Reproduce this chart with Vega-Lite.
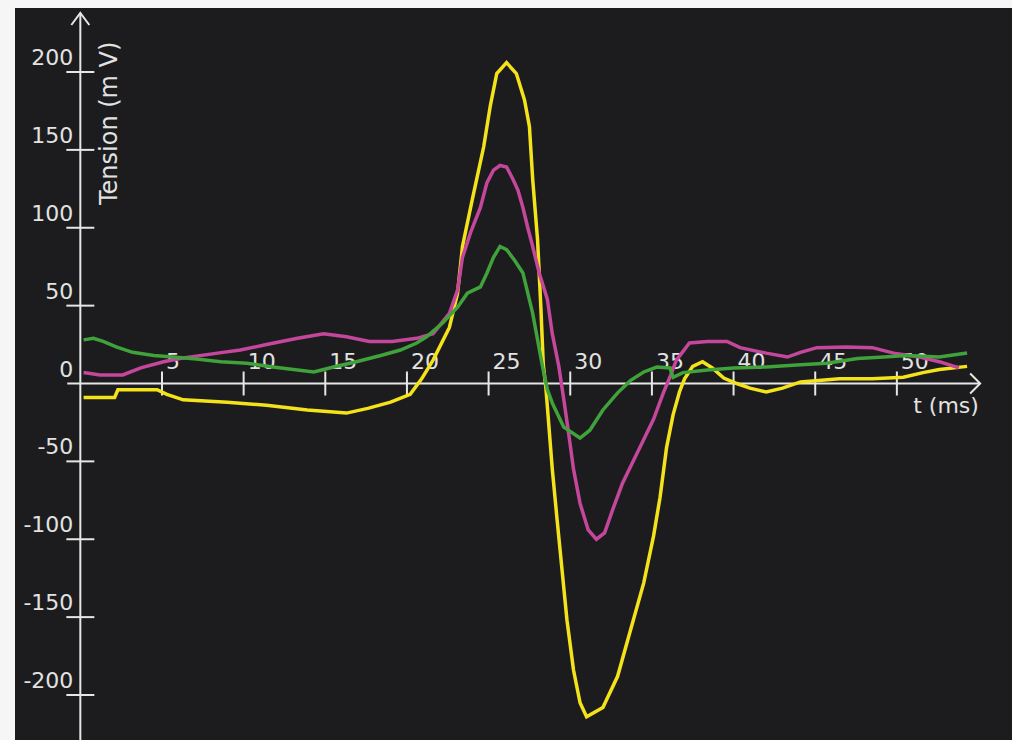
{
  "$schema": "https://vega.github.io/schema/vega-lite/v6.json",
  "width": 997,
  "height": 732,
  "padding": {"left": 15, "top": 8, "right": 0, "bottom": 0},
  "autosize": {"type": "none"},
  "background": "#f6f6f6",
  "config": {"view": {"stroke": null, "fill": "#1c1c1e"}},
  "datasets": {
    "curves": [
      {"series": "Jaune", "t": 0.2, "v": -9}, {"series": "Jaune", "t": 2.1, "v": -9}, {"series": "Jaune", "t": 2.3, "v": -4}, {"series": "Jaune", "t": 4.7, "v": -4}, {"series": "Jaune", "t": 5.3, "v": -7}, {"series": "Jaune", "t": 6.3, "v": -10.5}, {"series": "Jaune", "t": 9, "v": -12}, {"series": "Jaune", "t": 11.4, "v": -14}, {"series": "Jaune", "t": 13.9, "v": -17}, {"series": "Jaune", "t": 16.3, "v": -19}, {"series": "Jaune", "t": 17.6, "v": -16}, {"series": "Jaune", "t": 19, "v": -12}, {"series": "Jaune", "t": 20.2, "v": -7}, {"series": "Jaune", "t": 20.9, "v": 3}, {"series": "Jaune", "t": 21.6, "v": 15}, {"series": "Jaune", "t": 22.6, "v": 36}, {"series": "Jaune", "t": 23.1, "v": 58}, {"series": "Jaune", "t": 23.4, "v": 88}, {"series": "Jaune", "t": 24.0, "v": 118}, {"series": "Jaune", "t": 24.7, "v": 152}, {"series": "Jaune", "t": 25.1, "v": 178}, {"series": "Jaune", "t": 25.5, "v": 199}, {"series": "Jaune", "t": 26.1, "v": 206}, {"series": "Jaune", "t": 26.7, "v": 199}, {"series": "Jaune", "t": 27.2, "v": 182}, {"series": "Jaune", "t": 27.5, "v": 165}, {"series": "Jaune", "t": 27.7, "v": 131}, {"series": "Jaune", "t": 28.0, "v": 92}, {"series": "Jaune", "t": 28.2, "v": 49}, {"series": "Jaune", "t": 28.35, "v": 12}, {"series": "Jaune", "t": 28.5, "v": -2}, {"series": "Jaune", "t": 28.6, "v": -15}, {"series": "Jaune", "t": 28.9, "v": -55}, {"series": "Jaune", "t": 29.2, "v": -88}, {"series": "Jaune", "t": 29.5, "v": -120}, {"series": "Jaune", "t": 29.8, "v": -152}, {"series": "Jaune", "t": 30.2, "v": -184}, {"series": "Jaune", "t": 30.6, "v": -205}, {"series": "Jaune", "t": 31.0, "v": -214}, {"series": "Jaune", "t": 32.0, "v": -208}, {"series": "Jaune", "t": 32.9, "v": -188}, {"series": "Jaune", "t": 33.7, "v": -158}, {"series": "Jaune", "t": 34.5, "v": -128}, {"series": "Jaune", "t": 35.1, "v": -98}, {"series": "Jaune", "t": 35.5, "v": -73}, {"series": "Jaune", "t": 35.9, "v": -41}, {"series": "Jaune", "t": 36.3, "v": -20}, {"series": "Jaune", "t": 36.7, "v": -5}, {"series": "Jaune", "t": 37.0, "v": 3}, {"series": "Jaune", "t": 37.5, "v": 11}, {"series": "Jaune", "t": 38.1, "v": 14}, {"series": "Jaune", "t": 38.7, "v": 10}, {"series": "Jaune", "t": 39.4, "v": 3.5}, {"series": "Jaune", "t": 40.2, "v": 0}, {"series": "Jaune", "t": 41, "v": -3}, {"series": "Jaune", "t": 42, "v": -5.5}, {"series": "Jaune", "t": 43, "v": -3}, {"series": "Jaune", "t": 44.1, "v": 1}, {"series": "Jaune", "t": 46.5, "v": 3}, {"series": "Jaune", "t": 48.5, "v": 3}, {"series": "Jaune", "t": 50.4, "v": 4}, {"series": "Jaune", "t": 51.6, "v": 7}, {"series": "Jaune", "t": 52.6, "v": 9}, {"series": "Jaune", "t": 54.3, "v": 11},
      {"series": "Magenta", "t": 0.2, "v": 7}, {"series": "Magenta", "t": 1.2, "v": 5.5}, {"series": "Magenta", "t": 2.6, "v": 5.5}, {"series": "Magenta", "t": 3.7, "v": 10}, {"series": "Magenta", "t": 5.1, "v": 14}, {"series": "Magenta", "t": 6.1, "v": 16}, {"series": "Magenta", "t": 8.4, "v": 19.5}, {"series": "Magenta", "t": 9.8, "v": 21.5}, {"series": "Magenta", "t": 11.4, "v": 25}, {"series": "Magenta", "t": 13.3, "v": 29}, {"series": "Magenta", "t": 14.9, "v": 32}, {"series": "Magenta", "t": 16.3, "v": 30}, {"series": "Magenta", "t": 17.7, "v": 27}, {"series": "Magenta", "t": 19.1, "v": 27}, {"series": "Magenta", "t": 20.6, "v": 29}, {"series": "Magenta", "t": 21.6, "v": 32}, {"series": "Magenta", "t": 22.6, "v": 45}, {"series": "Magenta", "t": 23.1, "v": 60}, {"series": "Magenta", "t": 23.4, "v": 81}, {"series": "Magenta", "t": 23.9, "v": 97}, {"series": "Magenta", "t": 24.5, "v": 113}, {"series": "Magenta", "t": 24.9, "v": 129}, {"series": "Magenta", "t": 25.3, "v": 137}, {"series": "Magenta", "t": 25.7, "v": 140}, {"series": "Magenta", "t": 26.1, "v": 139}, {"series": "Magenta", "t": 26.5, "v": 131}, {"series": "Magenta", "t": 26.8, "v": 124}, {"series": "Magenta", "t": 27.1, "v": 113}, {"series": "Magenta", "t": 27.4, "v": 100}, {"series": "Magenta", "t": 27.7, "v": 88}, {"series": "Magenta", "t": 28.1, "v": 71}, {"series": "Magenta", "t": 28.6, "v": 54}, {"series": "Magenta", "t": 28.9, "v": 32}, {"series": "Magenta", "t": 29.3, "v": 11}, {"series": "Magenta", "t": 29.6, "v": -10}, {"series": "Magenta", "t": 29.9, "v": -32}, {"series": "Magenta", "t": 30.2, "v": -55}, {"series": "Magenta", "t": 30.6, "v": -77}, {"series": "Magenta", "t": 31.1, "v": -94}, {"series": "Magenta", "t": 31.6, "v": -100}, {"series": "Magenta", "t": 32.1, "v": -96}, {"series": "Magenta", "t": 32.6, "v": -81}, {"series": "Magenta", "t": 33.2, "v": -64}, {"series": "Magenta", "t": 33.8, "v": -51}, {"series": "Magenta", "t": 34.5, "v": -36}, {"series": "Magenta", "t": 35.1, "v": -23}, {"series": "Magenta", "t": 35.7, "v": -6}, {"series": "Magenta", "t": 36.1, "v": 4}, {"series": "Magenta", "t": 36.5, "v": 15}, {"series": "Magenta", "t": 37.3, "v": 26}, {"series": "Magenta", "t": 38.4, "v": 27}, {"series": "Magenta", "t": 39.6, "v": 27}, {"series": "Magenta", "t": 40.4, "v": 23}, {"series": "Magenta", "t": 42.0, "v": 19.5}, {"series": "Magenta", "t": 43.3, "v": 17}, {"series": "Magenta", "t": 44.1, "v": 20}, {"series": "Magenta", "t": 45.1, "v": 23}, {"series": "Magenta", "t": 46.9, "v": 23.5}, {"series": "Magenta", "t": 48.5, "v": 23}, {"series": "Magenta", "t": 49.8, "v": 19.5}, {"series": "Magenta", "t": 51.4, "v": 17}, {"series": "Magenta", "t": 52.6, "v": 14}, {"series": "Magenta", "t": 53.8, "v": 10},
      {"series": "Vert", "t": 0.2, "v": 28}, {"series": "Vert", "t": 0.8, "v": 29}, {"series": "Vert", "t": 1.4, "v": 27}, {"series": "Vert", "t": 2.2, "v": 23.5}, {"series": "Vert", "t": 3.2, "v": 20}, {"series": "Vert", "t": 4.5, "v": 18}, {"series": "Vert", "t": 5.7, "v": 17}, {"series": "Vert", "t": 7.1, "v": 15.7}, {"series": "Vert", "t": 8.6, "v": 14}, {"series": "Vert", "t": 10.2, "v": 13}, {"series": "Vert", "t": 11.8, "v": 10.6}, {"series": "Vert", "t": 13.3, "v": 8.7}, {"series": "Vert", "t": 14.3, "v": 7.4}, {"series": "Vert", "t": 15.5, "v": 10.6}, {"series": "Vert", "t": 16.9, "v": 14}, {"series": "Vert", "t": 18.4, "v": 18}, {"series": "Vert", "t": 19.6, "v": 21.5}, {"series": "Vert", "t": 20.6, "v": 26}, {"series": "Vert", "t": 21.2, "v": 30}, {"series": "Vert", "t": 22.2, "v": 39}, {"series": "Vert", "t": 23.1, "v": 49}, {"series": "Vert", "t": 23.7, "v": 58}, {"series": "Vert", "t": 24.5, "v": 62}, {"series": "Vert", "t": 24.9, "v": 71}, {"series": "Vert", "t": 25.3, "v": 81}, {"series": "Vert", "t": 25.7, "v": 88}, {"series": "Vert", "t": 26.1, "v": 86}, {"series": "Vert", "t": 26.6, "v": 79}, {"series": "Vert", "t": 27.1, "v": 71}, {"series": "Vert", "t": 27.4, "v": 58}, {"series": "Vert", "t": 27.7, "v": 45}, {"series": "Vert", "t": 28.0, "v": 28}, {"series": "Vert", "t": 28.3, "v": 11}, {"series": "Vert", "t": 28.6, "v": -4}, {"series": "Vert", "t": 28.9, "v": -12.5}, {"series": "Vert", "t": 29.6, "v": -28}, {"series": "Vert", "t": 30.6, "v": -35}, {"series": "Vert", "t": 31.2, "v": -30}, {"series": "Vert", "t": 32.0, "v": -17}, {"series": "Vert", "t": 32.9, "v": -6}, {"series": "Vert", "t": 33.7, "v": 2}, {"series": "Vert", "t": 34.5, "v": 7.4}, {"series": "Vert", "t": 35.3, "v": 10.6}, {"series": "Vert", "t": 36.1, "v": 10}, {"series": "Vert", "t": 36.3, "v": 4}, {"series": "Vert", "t": 36.9, "v": 7}, {"series": "Vert", "t": 38.4, "v": 8.7}, {"series": "Vert", "t": 40.0, "v": 10}, {"series": "Vert", "t": 42.0, "v": 10.6}, {"series": "Vert", "t": 44.1, "v": 12}, {"series": "Vert", "t": 45.7, "v": 13}, {"series": "Vert", "t": 47.6, "v": 16}, {"series": "Vert", "t": 49.2, "v": 17}, {"series": "Vert", "t": 50.6, "v": 18}, {"series": "Vert", "t": 52.6, "v": 17}, {"series": "Vert", "t": 54.3, "v": 19.6}
    ],
    "xticks": [{"t": 5}, {"t": 10}, {"t": 15}, {"t": 20}, {"t": 25}, {"t": 30}, {"t": 35}, {"t": 40}, {"t": 45}, {"t": 50}],
    "yticks": [{"v": -200}, {"v": -150}, {"v": -100}, {"v": -50}, {"v": 0}, {"v": 50}, {"v": 100}, {"v": 150}, {"v": 200}],
    "one": [{"k": 1}]
  },
  "layer": [
    {
      "data": {"name": "one"},
      "mark": {"type": "rule", "color": "#e6e6e6", "strokeWidth": 2},
      "encoding": {
        "x": {"datum": -0.8, "type": "quantitative", "scale": {"domain": [-4.0, 57.05], "nice": false, "zero": false}, "axis": null},
        "x2": {"datum": 55.1},
        "y": {"datum": 0, "type": "quantitative", "scale": {"domain": [-228.9, 241.1], "nice": false, "zero": false}, "axis": null}
      }
    },
    {
      "data": {"name": "one"},
      "mark": {"type": "rule", "color": "#e6e6e6", "strokeWidth": 2},
      "encoding": {
        "x": {"datum": 0, "type": "quantitative"},
        "y": {"datum": -228.9, "type": "quantitative"},
        "y2": {"datum": 237.9}
      }
    },
    {
      "data": {"name": "one"},
      "mark": {"type": "point", "shape": "M-1,-1L0,0L-1,1", "size": 400, "filled": false, "color": "#e6e6e6", "strokeWidth": 2, "opacity": 1},
      "encoding": {"x": {"datum": 55.1, "type": "quantitative"}, "y": {"datum": 0, "type": "quantitative"}}
    },
    {
      "data": {"name": "one"},
      "mark": {"type": "point", "shape": "M-0.75,1L0,0L0.75,1", "size": 576, "filled": false, "color": "#e6e6e6", "strokeWidth": 2, "opacity": 1},
      "encoding": {"x": {"datum": 0, "type": "quantitative"}, "y": {"datum": 237.9, "type": "quantitative"}}
    },
    {
      "data": {"name": "xticks"},
      "mark": {"type": "tick", "orient": "vertical", "size": 24, "thickness": 2, "color": "#e6e6e6", "opacity": 1},
      "encoding": {"x": {"field": "t", "type": "quantitative"}, "y": {"datum": 0, "type": "quantitative"}}
    },
    {
      "data": {"name": "xticks"},
      "mark": {"type": "text", "align": "left", "baseline": "alphabetic", "dx": 4, "dy": -15, "font": "DejaVu Sans", "fontSize": 22, "color": "#e2e2e2"},
      "encoding": {"x": {"field": "t", "type": "quantitative"}, "y": {"datum": 0, "type": "quantitative"}, "text": {"field": "t", "type": "nominal"}}
    },
    {
      "data": {"name": "yticks"},
      "transform": [{"filter": "datum.v != 0"}],
      "mark": {"type": "tick", "orient": "horizontal", "size": 28, "thickness": 2, "color": "#e6e6e6", "opacity": 1},
      "encoding": {"x": {"datum": 0, "type": "quantitative"}, "y": {"field": "v", "type": "quantitative"}}
    },
    {
      "data": {"name": "yticks"},
      "mark": {"type": "text", "align": "right", "baseline": "alphabetic", "dx": -7, "dy": -7, "font": "DejaVu Sans", "fontSize": 22, "color": "#e2e2e2"},
      "encoding": {"x": {"datum": 0, "type": "quantitative"}, "y": {"field": "v", "type": "quantitative"}, "text": {"field": "v", "type": "nominal"}}
    },
    {
      "data": {"name": "one"},
      "mark": {"type": "text", "align": "left", "baseline": "alphabetic", "dy": 29, "font": "DejaVu Sans", "fontSize": 22, "color": "#e2e2e2", "text": "t (ms)"},
      "encoding": {"x": {"datum": 51.0, "type": "quantitative"}, "y": {"datum": 0, "type": "quantitative"}}
    },
    {
      "data": {"name": "one"},
      "mark": {"type": "text", "align": "left", "baseline": "middle", "angle": 270, "font": "DejaVu Sans", "fontSize": 24, "color": "#e2e2e2", "text": "Tension (m V)"},
      "encoding": {"x": {"datum": 1.82, "type": "quantitative"}, "y": {"datum": 114.6, "type": "quantitative"}}
    },
    {
      "data": {"name": "curves"},
      "mark": {"type": "line", "strokeWidth": 3.5, "interpolate": "linear"},
      "encoding": {
        "x": {"field": "t", "type": "quantitative"},
        "y": {"field": "v", "type": "quantitative"},
        "color": {"field": "series", "type": "nominal", "scale": {"domain": ["Magenta", "Jaune", "Vert"], "range": ["#c4479c", "#f4e21a", "#3fa23a"]}, "legend": null},
        "order": {"field": "t", "type": "quantitative"}
      }
    }
  ]
}
